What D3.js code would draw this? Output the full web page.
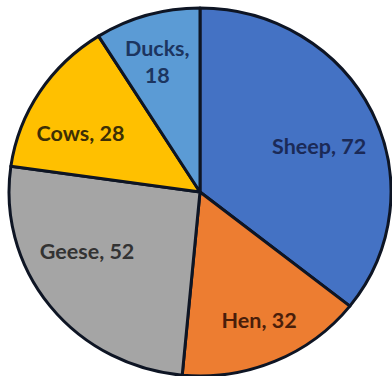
<!DOCTYPE html>
<html>
<head>
<meta charset="utf-8">
<script src="https://cdn.jsdelivr.net/npm/d3@7"></script>
<style>
  html, body { margin: 0; padding: 0; background: #ffffff; }
  svg { display: block; }
  text { font-family: Lato, "Open Sans", sans-serif; font-weight: 700; }
</style>
</head>
<body>
<svg id="chart" width="392" height="376"></svg>
<script>
// Farm animal counts
const animals = ["Sheep", "Hen", "Geese", "Cows", "Ducks"];
const counts  = [72, 32, 52, 28, 18];

// Slice fills and label inks
const fills  = ["#4472C4", "#ED7D31", "#A5A5A5", "#FFC000", "#5B9BD5"];
const inks   = ["#1b2a57", "#4a1e0a", "#333333", "#3d2f05", "#1c3560"];

const width = 392, height = 376;
const cx = 200, cy = 192;
const radius = 184;
const stretchX = 1.038;           // pie is drawn slightly wider than tall
const labelRadius = 135;

// Small per-label adjustments from the centroid position
const labelNudge = {
  Sheep: [-7, 13], Hen: [4, 4], Geese: [-3, -24], Cows: [-2, 15], Ducks: [-4, 0]
};

const data = animals.map((a, i) => ({ name: a, value: counts[i], fill: fills[i], ink: inks[i] }));

const pie = d3.pie().sort(null).value(d => d.value);
const arcs = pie(data);

const arc = d3.arc().innerRadius(0).outerRadius(radius);
const labelArc = d3.arc().innerRadius(labelRadius).outerRadius(labelRadius);

const svg = d3.select("#chart");

const slices = svg.append("g")
  .attr("transform", `translate(${cx},${cy}) scale(${stretchX},1)`);

slices.selectAll("path")
  .data(arcs)
  .join("path")
  .attr("d", arc)
  .attr("fill", d => d.data.fill)
  .attr("stroke", "#0e1524")
  .attr("stroke-width", 3)
  .attr("stroke-linejoin", "round")
  .attr("vector-effect", "non-scaling-stroke");

const labels = svg.append("g");

arcs.forEach(d => {
  const [lx, ly] = labelArc.centroid(d);
  const nudge = labelNudge[d.data.name] || [0, 0];
  const x = cx + lx * stretchX + nudge[0];
  const y = cy + ly + nudge[1];
  const t = labels.append("text")
    .attr("text-anchor", "middle")
    .attr("fill", d.data.ink)
    .attr("font-size", 21.5);
  if (d.data.name === "Ducks") {
    t.append("tspan").attr("x", x).attr("y", y - 13.5).attr("dy", "0.35em").text(d.data.name + ",");
    t.append("tspan").attr("x", x).attr("y", y + 13.5).attr("dy", "0.35em").text(d.data.value);
  } else {
    t.attr("x", x).attr("y", y).attr("dy", "0.35em").text(`${d.data.name}, ${d.data.value}`);
  }
});
</script>
</body>
</html>
